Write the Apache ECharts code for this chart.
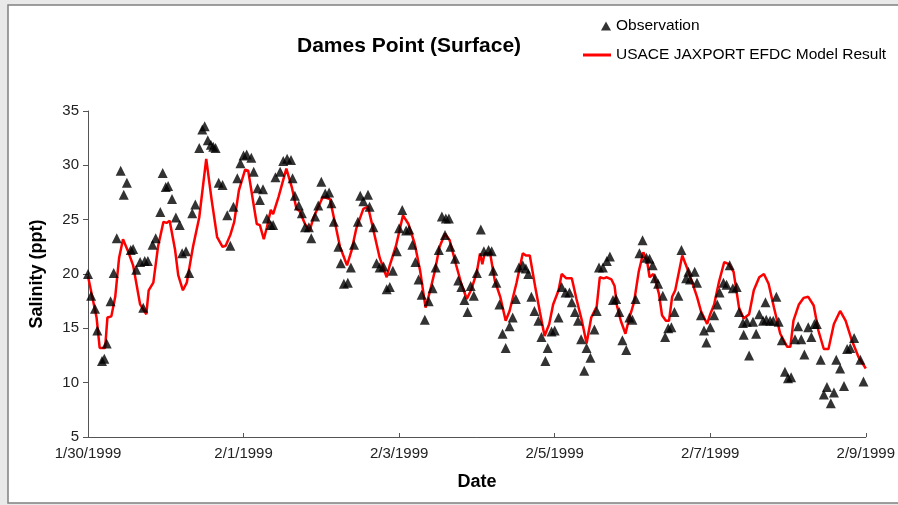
<!DOCTYPE html>
<html>
<head>
<meta charset="utf-8">
<script src="https://cdn.jsdelivr.net/npm/echarts@6/dist/echarts.min.js"></script>
<style>html,body{margin:0;padding:0;background:#e9e9e9}#c{width:898px;height:505px}</style>
</head>
<body>
<div id="c"></div>
<script>
const tickLabels = ['1/30/1999', '2/1/1999', '2/3/1999', '2/5/1999', '2/7/1999', '2/9/1999'];

const obsDays = [0.00,0.04,0.09,0.12,0.18,0.21,0.24,0.29,0.33,0.37,0.42,0.46,0.50,0.55,0.58,0.62,0.67,0.71,0.73,0.77,0.83,0.87,0.93,0.96,1.00,1.03,1.08,1.13,1.18,1.21,1.26,1.30,1.34,1.38,1.43,1.47,1.50,1.54,1.58,1.61,1.64,1.68,1.73,1.79,1.83,1.87,1.92,1.96,2.00,2.04,2.10,2.13,2.18,2.21,2.25,2.30,2.35,2.38,2.41,2.47,2.51,2.56,2.61,2.63,2.66,2.71,2.75,2.79,2.84,2.87,2.92,2.96,3.00,3.05,3.10,3.13,3.16,3.22,3.25,3.29,3.34,3.38,3.42,3.47,3.50,3.54,3.60,3.62,3.67,3.71,3.75,3.80,3.84,3.88,3.92,3.97,4.00,4.04,4.09,4.13,4.17,4.21,4.25,4.29,4.33,4.38,4.43,4.47,4.51,4.55,4.59,4.60,4.64,4.66,4.72,4.76,4.80,4.84,4.88,4.92,4.96,5.00,5.05,5.09,5.15,5.19,5.21,5.25,5.29,5.33,5.37,5.42,5.46,5.50,5.54,5.59,5.63,5.66,5.70,5.74,5.79,5.83,5.88,5.91,5.96,6.00,6.05,6.09,6.14,6.19,6.22,6.26,6.30,6.34,6.38,6.41,6.46,6.51,6.54,6.57,6.62,6.67,6.71,6.75,6.79,6.83,6.87,6.92,6.96,7.00,7.04,7.09,7.13,7.18,7.22,7.26,7.29,7.33,7.39,7.42,7.46,7.50,7.54,7.59,7.63,7.69,7.72,7.74,7.80,7.83,7.88,7.92,7.95,8.00,8.05,8.09,8.12,8.17,8.21,8.25,8.29,8.34,8.37,8.42,8.43,8.47,8.50,8.55,8.59,8.63,8.68,8.71,8.72,8.77,8.81,8.85,8.88,8.92,8.96,9.00,9.04,9.09,9.13,9.17,9.21,9.26,9.30,9.34,9.37,9.42,9.46,9.50,9.55,9.59,9.62,9.67,9.72,9.76,9.80,9.85,9.93,9.97];

const obsSalinity = [20.0,18.0,16.8,14.8,12.0,12.2,13.6,17.5,20.1,23.3,29.5,27.3,28.4,22.2,22.3,20.4,21.1,16.9,21.2,21.2,22.7,23.3,25.7,29.3,28.0,28.1,26.9,25.2,24.5,21.9,22.1,20.1,25.6,26.4,31.6,33.3,33.6,32.3,31.9,31.7,31.6,28.4,28.2,25.4,22.6,26.2,28.8,30.2,30.9,31.0,30.7,29.4,27.9,26.8,27.8,25.1,24.5,24.5,28.9,29.4,30.4,30.6,30.5,28.8,27.2,26.3,25.6,24.3,24.3,23.3,25.3,26.3,28.5,27.4,27.5,26.5,24.8,22.5,21.0,19.1,19.2,20.6,22.7,24.8,27.2,26.7,27.3,26.2,24.3,21.0,20.6,20.7,18.6,18.8,20.3,22.1,24.2,25.9,24.0,24.1,22.7,21.1,19.5,18.1,15.8,17.5,18.7,20.6,22.2,25.3,23.6,25.1,25.1,22.5,21.4,19.4,18.8,17.6,16.5,18.9,18.0,20.1,24.1,22.1,22.2,22.1,20.3,19.2,17.2,14.5,13.2,15.2,16.0,17.7,20.6,20.8,20.5,20.0,17.9,16.6,15.7,14.2,12.0,13.2,14.7,14.8,16.0,18.8,18.3,18.3,17.4,16.5,15.7,14.0,11.1,13.2,12.3,14.9,16.6,20.6,20.6,21.2,21.6,17.6,17.7,16.5,13.9,13.0,16.0,15.8,17.7,21.9,23.1,21.5,21.4,20.8,19.6,19.1,18.0,14.2,15.0,15.1,16.5,18.0,22.2,19.6,20.2,19.5,20.2,19.2,16.2,14.8,13.7,15.1,16.2,17.2,18.3,19.2,19.0,20.8,18.7,18.8,16.5,15.5,14.4,15.6,12.5,15.6,14.5,16.3,15.7,17.4,15.8,15.7,15.7,17.9,15.6,13.9,11.0,10.4,10.5,14.0,15.2,14.0,12.6,15.1,14.2,15.4,15.4,12.1,8.9,9.6,8.1,9.1,12.1,11.3,9.7,13.1,13.2,14.1,12.1,10.1];

const modelDays = [0.00,0.11,0.15,0.22,0.25,0.30,0.35,0.40,0.45,0.52,0.58,0.63,0.67,0.75,0.78,0.84,0.90,0.97,1.01,1.05,1.12,1.16,1.22,1.27,1.35,1.43,1.52,1.59,1.66,1.73,1.77,1.83,1.88,1.94,2.02,2.06,2.12,2.17,2.21,2.26,2.30,2.35,2.38,2.45,2.55,2.62,2.68,2.72,2.79,2.85,2.90,2.95,3.02,3.11,3.17,3.24,3.33,3.39,3.45,3.54,3.60,3.68,3.75,3.84,3.88,3.96,4.05,4.12,4.20,4.27,4.34,4.40,4.46,4.52,4.59,4.65,4.73,4.80,4.87,4.93,5.00,5.04,5.07,5.10,5.17,5.23,5.30,5.37,5.42,5.51,5.59,5.63,5.68,5.75,5.81,5.87,5.93,5.98,6.05,6.09,6.15,6.22,6.28,6.35,6.41,6.47,6.54,6.58,6.63,6.67,6.73,6.77,6.80,6.85,6.91,6.95,7.02,7.08,7.14,7.19,7.22,7.27,7.34,7.38,7.43,7.47,7.51,7.55,7.64,7.70,7.75,7.83,7.88,7.96,8.00,8.05,8.11,8.18,8.24,8.30,8.37,8.43,8.50,8.56,8.63,8.69,8.75,8.82,8.90,8.99,9.03,9.07,9.14,9.20,9.26,9.33,9.39,9.46,9.52,9.59,9.67,9.74,9.82,9.91,10.00];

const modelSalinity = [19.8,16.0,13.2,13.2,16.0,16.1,17.9,21.5,23.2,22.0,20.8,18.8,17.2,16.3,18.5,19.2,22.5,24.8,24.7,24.9,22.2,19.9,18.5,19.2,22.5,25.2,30.6,26.8,23.4,22.5,22.6,23.6,24.8,27.7,29.6,29.5,26.8,24.6,24.5,23.2,24.3,25.9,25.5,27.1,29.7,28.0,26.0,25.8,24.6,24.0,25.2,26.0,27.1,26.9,24.9,22.5,20.8,22.2,24.2,26.0,26.2,23.7,21.5,19.7,20.8,22.6,25.4,24.6,22.8,20.3,16.9,18.5,20.3,22.5,23.7,23.1,20.9,19.1,17.7,18.6,20.2,21.9,20.9,21.9,21.9,19.4,17.9,15.7,16.6,19.2,21.9,21.7,21.7,18.8,16.5,14.3,15.4,17.2,18.5,20.0,19.6,19.6,17.7,15.7,13.6,16.0,17.0,19.7,19.6,19.7,19.5,18.9,17.1,15.7,14.5,15.7,17.4,20.2,22.0,21.1,19.7,20.0,18.2,16.2,15.7,15.7,17.9,18.5,21.7,20.6,19.6,17.9,16.6,15.4,16.3,17.2,19.2,21.1,20.9,20.2,16.9,15.9,16.3,18.5,19.7,20.0,19.1,16.9,14.5,13.3,13.3,15.7,17.2,17.8,17.9,17.1,14.8,13.1,13.1,15.4,16.6,15.7,13.9,12.3,11.3];

const obsData = obsDays.map((d, i) => [d, obsSalinity[i]]);
const modelData = modelDays.map((d, i) => [d, modelSalinity[i]]);

const FONT = 'Liberation Sans, Arial, sans-serif';
const chart = echarts.init(document.getElementById('c'), null, {renderer: 'canvas'});
chart.setOption({
  backgroundColor: '#e9e9e9',
  animation: false,
  graphic: [{
    type: 'rect', z: -100, zlevel: 0,
    shape: {x: 8, y: 5, width: 900, height: 498},
    style: {fill: '#ffffff', stroke: '#808080', lineWidth: 1.5}
  }],
  title: {
    text: 'Dames Point (Surface)',
    left: 292, top: 31,
    textStyle: {fontFamily: FONT, fontSize: 21, fontWeight: 'bold', color: '#000'}
  },
  legend: [{
    data: [{name: 'Observation', icon: 'triangle'}],
    left: 601, top: 18, padding: 0, itemWidth: 10, itemHeight: 9, itemGap: 4,
    textStyle: {fontFamily: FONT, fontSize: 15.5, color: '#000'}
  }, {
    data: [{name: 'USACE JAXPORT EFDC Model Result', icon: 'rect'}],
    left: 583, top: 47, padding: 0, itemWidth: 28, itemHeight: 3, itemGap: 2,
    textStyle: {fontFamily: FONT, fontSize: 15.5, color: '#000'}
  }],
  grid: {left: 88, right: 32, top: 111, bottom: 68, containLabel: false},
  xAxis: {
    type: 'value', min: 0, max: 10, interval: 2,
    name: 'Date', nameLocation: 'middle', nameGap: 36,
    nameTextStyle: {fontFamily: FONT, fontSize: 18, fontWeight: 'bold', color: '#000'},
    axisLine: {lineStyle: {color: '#555', width: 1}},
    axisTick: {inside: true, length: 4, lineStyle: {color: '#555'}},
    axisLabel: {fontFamily: FONT, fontSize: 15, color: '#222', margin: 9,
      formatter: v => tickLabels[Math.round(v / 2)] || ''},
    splitLine: {show: false}
  },
  yAxis: {
    type: 'value', min: 5, max: 35, interval: 5,
    name: 'Salinity (ppt)', nameLocation: 'middle', nameGap: 42, nameRotate: 90,
    nameTextStyle: {fontFamily: FONT, fontSize: 18, fontWeight: 'bold', color: '#000'},
    axisLine: {show: true, lineStyle: {color: '#555', width: 1}},
    axisTick: {show: true, inside: false, length: 5, lineStyle: {color: '#555'}},
    axisLabel: {fontFamily: FONT, fontSize: 15, color: '#222', margin: 9},
    splitLine: {show: false}
  },
  series: [{
    name: 'USACE JAXPORT EFDC Model Result',
    type: 'line', data: modelData, symbol: 'none', smooth: false,
    lineStyle: {color: '#ff0000', width: 2.5}, itemStyle: {color: '#ff0000'}, z: 2
  }, {
    name: 'Observation',
    type: 'scatter', data: obsData, symbol: 'triangle', symbolSize: 10,
    itemStyle: {color: '#000000'}, z: 3
  }]
});
</script>
</body>
</html>
